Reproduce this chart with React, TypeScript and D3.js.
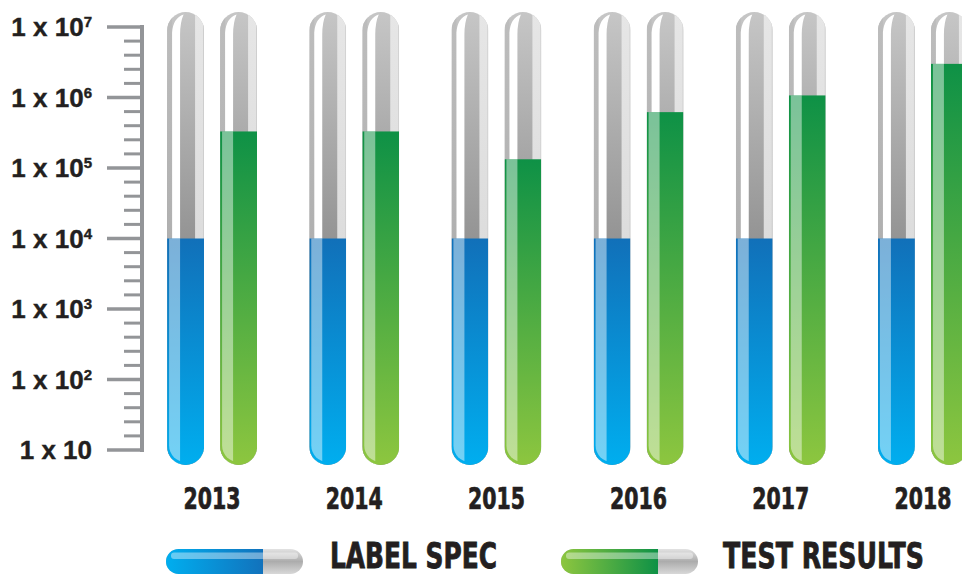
import * as d3 from 'd3';
import React, { useEffect, useRef } from 'react';

// chart values
const years = ['2013', '2014', '2015', '2016', '2017', '2018'];
const labelSpec = [1e4, 1e4, 1e4, 1e4, 1e4, 1e4];
const testResults = [3.3e5, 3.3e5, 1.33e5, 6.2e5, 1.07e6, 3.0e6];
const exponents = [1, 2, 3, 4, 5, 6, 7];
const seriesKeys = ['spec', 'test'];
const legendLabels = ['LABEL SPEC', 'TEST RESULTS'];

const W = 962;
const H = 576;
const axisColor = '#939598';
const textColor = '#231f20';
const labelFont = "'Liberation Sans', Arial, sans-serif";
const narrowFont = "'Liberation Sans Narrow', 'DejaVu Sans Condensed', 'Arial Narrow', sans-serif";

export default function App() {
  const svgRef = useRef<SVGSVGElement>(null);

  useEffect(() => {
    document.body.style.margin = '0';
    // squeeze the condensed labels to the width they have in the picture
    d3.select(svgRef.current)
      .selectAll<SVGTextElement, unknown>('text.fit')
      .each(function () {
        const el = this;
        const target = +(el.getAttribute('data-w') || 0);
        const ax = +(el.getAttribute('x') || 0);
        const natural = el.getComputedTextLength();
        if (natural > 0) {
          const s = target / natural;
          el.setAttribute('transform', `translate(${ax},0) scale(${s},1) translate(${-ax},0)`);
        }
      });
  }, []);

  const y = d3.scaleLog().domain([10, 1e7]).range([450, 27]);
  const x0 = d3.scaleBand<string>().domain(years).range([141, 994]).paddingInner(0);
  const x1 = d3.scaleBand<string>().domain(seriesKeys).range([-45, 45]).paddingInner(0.302);
  const tw = x1.bandwidth();
  const r = tw / 2;
  const tubeTop = y(1e7) - 15;
  const tubeBottom = y(10) + 15;
  const tubeH = tubeBottom - tubeTop;

  // minor ticks: 4 evenly spaced marks inside each decade
  const minor: number[] = [];
  for (let e = 1; e < 7; e++) {
    for (let j = 1; j < 5; j++) minor.push(Math.pow(10, e + j / 5));
  }

  const tubes: { key: string; year: string; value: number; x: number }[] = [];
  years.forEach((yr, i) => {
    const cx = (x0(yr) || 0) + x0.bandwidth() / 2;
    tubes.push({ key: 'spec', year: yr, value: labelSpec[i], x: cx + (x1('spec') || 0) });
    tubes.push({ key: 'test', year: yr, value: testResults[i], x: cx + (x1('test') || 0) });
  });

  const tubePath = `M0,${r} A${r},${r} 0 0 1 ${tw},${r} L${tw},${tubeH - r} A${r},${r} 0 0 1 0,${tubeH - r} Z`;

  return (
    <svg ref={svgRef} width={W} height={H} style={{ display: 'block' }} xmlns="http://www.w3.org/2000/svg">
      <defs>
        <linearGradient id="grayMain" x1="0" y1="0" x2="0" y2="1">
          <stop offset="0" stopColor="#c6c6c6" />
          <stop offset="0.55" stopColor="#8f8f8f" />
          <stop offset="1" stopColor="#8a8a8a" />
        </linearGradient>
        <linearGradient id="grayLeft" x1="0" y1="0" x2="0" y2="1">
          <stop offset="0" stopColor="#bdbdbd" />
          <stop offset="1" stopColor="#a3a3a3" />
        </linearGradient>
        <linearGradient id="grayRight" x1="0" y1="0" x2="0" y2="1">
          <stop offset="0" stopColor="#e6e6e6" />
          <stop offset="1" stopColor="#d3d3d3" />
        </linearGradient>
        <linearGradient id="fill-spec" x1="0" y1="0" x2="0" y2="1">
          <stop offset="0" stopColor="#1170b9" />
          <stop offset="1" stopColor="#00aeef" />
        </linearGradient>
        <linearGradient id="fill-test" x1="0" y1="0" x2="0" y2="1">
          <stop offset="0" stopColor="#0e9146" />
          <stop offset="1" stopColor="#8dc63f" />
        </linearGradient>
        <linearGradient id="leg-spec" x1="0" y1="0" x2="1" y2="0">
          <stop offset="0" stopColor="#00aeef" />
          <stop offset="1" stopColor="#1272bc" />
        </linearGradient>
        <linearGradient id="leg-test" x1="0" y1="0" x2="1" y2="0">
          <stop offset="0" stopColor="#8dc63f" />
          <stop offset="1" stopColor="#0e9146" />
        </linearGradient>
        <linearGradient id="legGray" x1="0" y1="0" x2="0" y2="1">
          <stop offset="0" stopColor="#e2e2e2" />
          <stop offset="0.5" stopColor="#acacac" />
          <stop offset="1" stopColor="#d8d8d8" />
        </linearGradient>
        <clipPath id="tubeClip">
          <path d={tubePath} />
        </clipPath>
        <clipPath id="hiClip">
          <rect x={2} y={3} width={tw - 4} height={tubeH - 6} rx={r - 2} />
        </clipPath>
        <clipPath id="legClip">
          <rect x={0} y={0} width={137} height={25} rx={12.5} />
        </clipPath>
      </defs>

      {/* axis */}
      <g>
        <line x1={142} x2={142} y1={y(1e7) - 2} y2={y(10) + 2} stroke={axisColor} strokeWidth={4} />
        {exponents.map((e) => (
          <line key={'M' + e} x1={107} x2={142} y1={y(Math.pow(10, e))} y2={y(Math.pow(10, e))} stroke={axisColor} strokeWidth={3.5} />
        ))}
        {minor.map((v, i) => (
          <line key={'m' + i} x1={124} x2={142} y1={y(v)} y2={y(v)} stroke={axisColor} strokeWidth={3} />
        ))}
        {exponents.map((e) => (
          <text key={'t' + e} x={92} y={y(Math.pow(10, e)) + 9} textAnchor="end" fontFamily={labelFont} fontWeight="bold" fontSize={26} fill={textColor} stroke={textColor} strokeWidth={0.4}>
            1 x 10
            {e > 1 && (
              <tspan fontSize={15} dy={-9}>{e}</tspan>
            )}
          </text>
        ))}
      </g>

      {/* tubes */}
      {tubes.map((t) => {
        const fillTop = y(t.value) - tubeTop;
        return (
          <g key={t.key + t.year} transform={`translate(${t.x},${tubeTop})`}>
            <g clipPath="url(#tubeClip)">
              <rect x={0} y={0} width={tw} height={tubeH} fill="url(#grayMain)" />
              <rect x={0} y={0} width={5} height={tubeH} fill="url(#grayLeft)" />
              <path d={`M5,${tubeH} L5,${r + 2} Q6,${6} ${r - 2},${2.5} Q13,${r - 8} 13,${r + 4} L13,${tubeH} Z`} fill="#ffffff" />
              <rect x={28} y={0} width={tw - 28} height={tubeH} fill="url(#grayRight)" />
              <rect x={tw - 1} y={0} width={1} height={tubeH} fill="#cdcdcd" />
              <rect x={0} y={fillTop} width={tw} height={tubeH - fillTop} fill={`url(#fill-${t.key})`} />
              <g clipPath="url(#hiClip)">
                <rect x={0} y={fillTop} width={13} height={tubeH - fillTop} fill="#ffffff" fillOpacity={0.45} />
              </g>
            </g>
          </g>
        );
      })}

      {/* year labels */}
      {years.map((yr) => (
        <text key={yr} className="fit" data-w={57} x={(x0(yr) || 0) + x0.bandwidth() / 2} y={509} textAnchor="middle" fontFamily={narrowFont} fontWeight="bold" fontSize={30} fill={textColor} stroke={textColor} strokeWidth={0.7}>
          {yr}
        </text>
      ))}

      {/* legend */}
      {seriesKeys.map((k, i) => {
        const lx = i === 0 ? 166 : 561;
        const tx = i === 0 ? 330 : 723;
        const tl = i === 0 ? 167 : 201;
        return (
          <g key={'leg' + k}>
            <g transform={`translate(${lx},549)`}>
              <g clipPath="url(#legClip)">
                <rect x={0} y={0} width={137} height={25} fill="url(#legGray)" />
                <rect x={0} y={0} width={97} height={25} fill={`url(#leg-${k})`} />
                <rect x={5} y={3.5} width={127} height={6.5} rx={3} fill="#ffffff" fillOpacity={0.4} />
              </g>
            </g>
            <text className="fit" data-w={tl} x={tx} y={568} fontFamily={narrowFont} fontWeight="bold" fontSize={35} fill={textColor} stroke={textColor} strokeWidth={0.8}>
              {legendLabels[i]}
            </text>
          </g>
        );
      })}
    </svg>
  );
}
